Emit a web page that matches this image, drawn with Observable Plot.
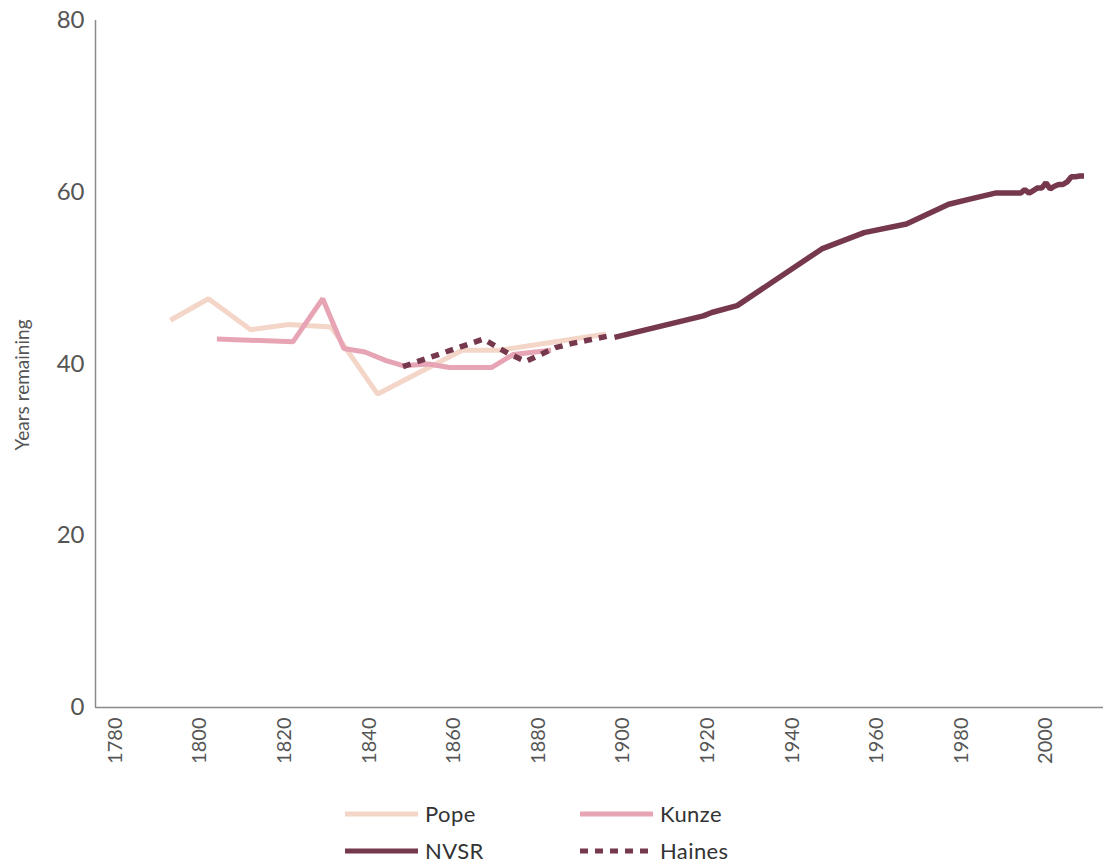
<!DOCTYPE html>
<html>
<head>
<meta charset="utf-8">
<script src="https://cdn.jsdelivr.net/npm/d3@7"></script>
<script src="https://cdn.jsdelivr.net/npm/@observablehq/plot@0.6"></script>
<style>
  body { margin: 0; background: #fff; font-family: Lato, "Open Sans", sans-serif; }
  #legend { display: grid; grid-template-columns: 235px 235px; margin-left: 345px; margin-top: 5px; }
  .item { display: flex; align-items: center; height: 37px; font-size: 22px; line-height: 1; color: #333; letter-spacing: 0.4px; }
  .item svg { margin-right: 7px; }
</style>
</head>
<body>
<div id="chart"></div>
<div id="legend"></div>
<script>
const seriesNames = ["Pope", "Kunze", "NVSR", "Haines"];
const seriesColors = ["#f3d6c8", "#e7a4b4", "#76384c", "#76384c"];

const popeYears = [1793, 1802, 1812, 1821, 1831, 1842, 1862, 1871, 1896];
const popeValues = [45.1, 47.6, 44.0, 44.6, 44.3, 36.5, 41.6, 41.6, 43.5];

const kunzeYears = [1804, 1822, 1829, 1834, 1839, 1844, 1848, 1854, 1859, 1869, 1874, 1883];
const kunzeValues = [42.9, 42.6, 47.6, 41.8, 41.4, 40.4, 39.8, 40.0, 39.6, 39.6, 41.1, 41.6];

const hainesYears = [1848, 1867, 1873, 1877, 1884, 1888, 1897];
const hainesValues = [39.7, 42.9, 41.2, 40.3, 41.9, 42.4, 43.3];

const nvsrYears = [1898, 1919, 1921, 1927, 1947, 1957, 1967, 1977, 1982, 1988, 1994, 1995, 1996, 1997, 1998, 1999, 2000, 2001, 2002, 2003, 2004, 2005, 2006, 2007, 2008, 2009];
const nvsrValues = [43.1, 45.6, 46.0, 46.8, 53.4, 55.3, 56.3, 58.6, 59.2, 59.9, 59.9, 60.3, 59.9, 60.2, 60.5, 60.5, 61.1, 60.4, 60.7, 60.9, 60.9, 61.2, 61.8, 61.8, 61.9, 61.9];

const yTicks = [0, 20, 40, 60, 80];
const xTicks = [1780, 1800, 1820, 1840, 1860, 1880, 1900, 1920, 1940, 1960, 1980, 2000];
const yLabel = "Years remaining";

const rows = (ys, vs) => ys.map((year, i) => ({year, value: vs[i]}));
const pope = rows(popeYears, popeValues);
const kunze = rows(kunzeYears, kunzeValues);
const haines = rows(hainesYears, hainesValues);
const nvsr = rows(nvsrYears, nvsrValues);

const xDomain = [1775.3, 2013.6];
const axisColor = "#8a8a8a";
const textColor = "#555";

const chart = Plot.plot({
  width: 1108,
  height: 790,
  marginTop: 20,
  marginBottom: 83,
  marginLeft: 95,
  marginRight: 5,
  style: {fontFamily: "Lato, 'Open Sans', sans-serif", background: "#fff"},
  x: {domain: xDomain},
  y: {domain: [0, 80]},
  marks: [
    Plot.axisY({ticks: yTicks, tickSize: 0, tickPadding: 11, fontSize: 24, color: textColor, label: null, letterSpacing: 1}),
    Plot.axisX({ticks: xTicks, tickSize: 0, tickPadding: 10, tickRotate: -90, fontSize: 20, color: textColor, tickFormat: "d", label: null, letterSpacing: 1}),
    Plot.text([yLabel], {frameAnchor: "left", textAnchor: "middle", rotate: -90, dx: -73, dy: 21, fontSize: 19, fill: textColor, letterSpacing: 0.8}),
    Plot.ruleX([xDomain[0]], {stroke: axisColor, strokeWidth: 1.5}),
    Plot.ruleY([0], {stroke: axisColor, strokeWidth: 1.5}),
    Plot.lineY(pope, {x: "year", y: "value", stroke: seriesColors[0], strokeWidth: 5, strokeLinejoin: "miter", strokeLinecap: "butt"}),
    Plot.lineY(kunze, {x: "year", y: "value", stroke: seriesColors[1], strokeWidth: 5, strokeLinejoin: "miter", strokeLinecap: "butt"}),
    Plot.lineY(haines, {x: "year", y: "value", stroke: seriesColors[3], strokeWidth: 5.5, strokeDasharray: "8,7", strokeLinecap: "butt"}),
    Plot.lineY(nvsr, {x: "year", y: "value", stroke: seriesColors[2], strokeWidth: 5.5, strokeLinejoin: "miter", strokeLinecap: "butt"})
  ]
});
document.getElementById("chart").appendChild(chart);

const legend = document.getElementById("legend");
seriesNames.forEach((name, i) => {
  const div = document.createElement("div");
  div.className = "item";
  const dash = name === "Haines" ? ' stroke-dasharray="8,7"' : "";
  div.innerHTML = `<svg width="73" height="10"><line x1="0" y1="5" x2="73" y2="5" stroke="${seriesColors[i]}" stroke-width="5"${dash}/></svg><span>${name}</span>`;
  legend.appendChild(div);
});
</script>
</body>
</html>
